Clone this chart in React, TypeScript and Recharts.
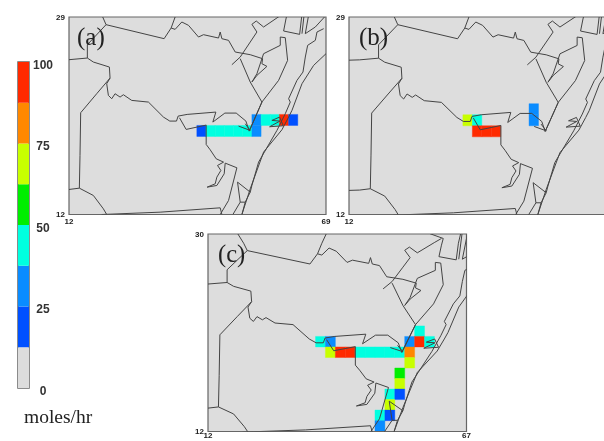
import React from 'react';
import {
    Bar,
    BarChart,
    CartesianGrid,
    ReferenceArea,
    Scatter,
    ScatterChart,
    XAxis,
    YAxis
} from 'recharts';

type Pt = [number, number];

// colour scale, lowest band first
const bandColors = ['#dcdcdc', '#0050ff', '#0a8cff', '#00ffe0', '#00ee00', '#c8ff00', '#ff8800', '#ff2a00'];
const bandSize = [12.5, 12.5, 12.5, 12.5, 12.5, 12.5, 12.5, 12.5];
const scaleTicks = [0, 25, 50, 75, 100];

// emission cells on the model grid: col, row, moles/hr
const cellsA = [
    [20, 9, 31], [21, 9, 44], [22, 9, 44], [23, 9, 94], [24, 9, 20],
    [14, 10, 20], [15, 10, 44], [16, 10, 44], [17, 10, 44], [18, 10, 44], [19, 10, 44], [20, 10, 28]
];
const cellsB = [
    [18, 8, 31], [18, 9, 31], [11, 9, 69], [12, 9, 44],
    [12, 10, 94], [13, 10, 94], [14, 10, 94]
];
const cellsC = [
    [21, 8, 44],
    [11, 9, 44], [12, 9, 31], [20, 9, 31], [21, 9, 94], [22, 9, 44],
    [12, 10, 69], [13, 10, 94], [14, 10, 94], [15, 10, 44], [16, 10, 44], [17, 10, 44], [18, 10, 44], [19, 10, 44], [20, 10, 81],
    [20, 11, 69], [19, 12, 56], [19, 13, 69], [18, 14, 44], [19, 14, 20],
    [18, 15, 69], [17, 16, 44], [18, 16, 20], [17, 17, 31]
];

// map outlines, traced in map units (y runs downward)
const countyTop: Pt[] = [[85, -29], [101, 0], [111, 23], [285, 65], [306, 33], [318, 0], [330, -29]];
const countyNorth: Pt[] = [[111, 23], [55, 83], [55, 123], [0, 128], [-31, 129]];
const countyMid: Pt[] = [[55, 123], [73, 135], [121, 150], [123, 183]];
const countyWest: Pt[] = [[123, 183], [83, 230], [35, 287], [33, 415], [31, 513]];
const countySouth: Pt[] = [[-31, 518], [0, 517], [31, 513], [73, 535], [103, 575], [113, 592]];
const bottomLine: Pt[] = [[98, 592], [273, 585], [453, 572], [458, 592]];
const riverMain: Pt[] = [
    [123, 183], [113, 200], [118, 235], [128, 245], [138, 230], [153, 240], [163, 233], [188, 250], [238, 255],
    [283, 300], [302, 312], [322, 312], [327, 297], [354, 292], [440, 285], [431, 315], [467, 288], [501, 288],
    [530, 312], [540, 342], [578, 255]
];
const riverLower: Pt[] = [
    [331, 302], [351, 337], [411, 324], [411, 382], [423, 398], [441, 425], [463, 435], [445, 445], [455, 460],
    [443, 480], [438, 500], [414, 510], [443, 505], [465, 470], [468, 438], [503, 452], [478, 550], [453, 592]
];
const bayInlet: Pt[] = [[508, 327], [543, 340], [528, 320]];
const peninsula: Pt[] = [[505, 495], [543, 525], [528, 555], [518, 592]];
const peninsulaInner: Pt[] = [[505, 495], [513, 555], [528, 555]];
const peninsulaFoot: Pt[] = [[513, 555], [491, 592]];
const riverNorth: Pt[] = [
    [306, 33], [318, 37], [338, 15], [358, 25], [388, 60], [403, 53], [448, 63], [453, 45], [458, 65], [478, 70],
    [498, 105], [543, 113], [580, 125], [578, 140], [593, 148], [563, 175], [548, 195]
];
const branchNorth: Pt[] = [[488, 143], [513, 120], [543, 75], [563, 45], [548, 22], [561, 12], [583, 30], [630, -2], [650, -15]];
const branchCross: Pt[] = [[513, 125], [543, 195], [578, 255]];
const neck: Pt[] = [[548, 195], [563, 170], [583, 110], [633, 85], [633, 60], [648, 62], [655, 130], [628, 190], [578, 255], [540, 342]];
const coastOuter: Pt[] = [[518, 592], [543, 515], [583, 405], [638, 338], [658, 300], [668, 280], [698, 200], [733, 145], [770, 110]];
const coastInner: Pt[] = [
    [543, 525], [548, 505], [568, 435], [623, 340], [648, 290], [663, 255], [658, 245], [683, 190], [701, 165],
    [708, 120], [715, 85], [738, 70], [743, 45], [763, 35]
];
const capeTip: Pt[] = [[642, 326], [601, 329], [632, 312], [608, 310], [631, 300], [642, 326]];
const northEast: Pt[] = [[618, -30], [655, -15], [650, 6], [643, 42], [691, 52], [697, 0], [703, -29]];
const northEastThin: Pt[] = [[707, -29], [698, 50]];
const northEastFar: Pt[] = [[722, -29], [708, 50], [738, 30], [770, -5]];

const mapLines = [
    countyTop, countyNorth, countyMid, countyWest, countySouth, bottomLine, riverMain, riverLower, bayInlet,
    peninsula, peninsulaInner, peninsulaFoot, riverNorth, branchNorth, branchCross, neck, coastOuter, coastInner,
    capeTip, northEast, northEastThin, northEastFar
].map((line) => line.map(([x, y]) => ({ x, y })));

const panelA = {
    name: '(a)', cells: cellsA, xDomain: [0, 770], yDomain: [0, 592], xLabels: ['12', '69'], yLabels: ['29', '12'],
    left: 69, top: 16.5, width: 257, height: 197.5, tickGap: 4, nameLeft: 77, nameTop: 22, nameSize: 25
};
const panelB = {
    name: '(b)', cells: cellsB, xDomain: [-31, 717], yDomain: [0, 590], xLabels: ['12'], yLabels: ['29', '12'],
    left: 349, top: 16.5, width: 257, height: 197.5, tickGap: 4, nameLeft: 359, nameTop: 22, nameSize: 25
};
const panelC = {
    name: '(c)', cells: cellsC, xDomain: [2, 719.5], yDomain: [-29, 590], xLabels: ['12', '67'], yLabels: ['30', '12'],
    left: 208, top: 233.5, width: 258.5, height: 197.5, tickGap: 1, nameLeft: 218, nameTop: 239, nameSize: 24.5
};

const smallTick = { fontSize: 8, fontWeight: 700, fontFamily: 'Liberation Sans', fill: '#222' };

function cellColor(value: number) {
    return bandColors[Math.min(Math.floor(value / 12.5), bandColors.length - 1)];
}

function MapPanel({ panel }: { panel: typeof panelA }) {
    const [xLo, xHi] = panel.xDomain;
    const [yLo, yHi] = panel.yDomain;
    return (
        <>
            <div style={{ position: 'absolute', left: panel.left - 30, top: panel.top - 6 }}>
                <ScatterChart
                    width={panel.width + 30 + 14}
                    height={panel.height + 6 + 11}
                    margin={{ top: 6, right: 14, bottom: 0, left: 0 }}
                >
                    <CartesianGrid fill="#dddddd" stroke="none" horizontal={false} vertical={false} />
                    <XAxis
                        type="number"
                        dataKey="x"
                        domain={[xLo, xHi]}
                        ticks={panel.xLabels.length > 1 ? [xLo, xHi] : [xLo]}
                        tickFormatter={(v: number) => (v === xLo ? panel.xLabels[0] : panel.xLabels[1])}
                        allowDataOverflow
                        interval={0}
                        height={11}
                        axisLine={false}
                        tickLine={false}
                        tickSize={0}
                        tickMargin={panel.tickGap}
                        tick={smallTick}
                    />
                    <YAxis
                        type="number"
                        dataKey="y"
                        reversed
                        domain={[yLo, yHi]}
                        ticks={[yLo, yHi]}
                        tickFormatter={(v: number) => (v === yLo ? panel.yLabels[0] : panel.yLabels[1])}
                        allowDataOverflow
                        interval={0}
                        width={30}
                        axisLine={false}
                        tickLine={false}
                        tickSize={0}
                        tickMargin={4}
                        tick={smallTick}
                    />
                    {panel.cells.map(([col, row, value]) => (
                        <ReferenceArea
                            key={`${col}-${row}`}
                            x1={col * 27.5 - 2}
                            x2={(col + 1) * 27.5 - 2}
                            y1={row * 33 - 5}
                            y2={(row + 1) * 33 - 5}
                            fill={cellColor(value)}
                            fillOpacity={1}
                            stroke={cellColor(value)}
                            strokeWidth={0.4}
                            ifOverflow="hidden"
                        />
                    ))}
                    {mapLines.map((line, i) => (
                        <Scatter
                            key={i}
                            data={line}
                            line={{ stroke: '#444444', strokeWidth: 1 }}
                            shape={() => <g />}
                            isAnimationActive={false}
                        />
                    ))}
                    <ReferenceArea
                        x1={xLo}
                        x2={xHi}
                        y1={yLo}
                        y2={yHi}
                        fill="none"
                        stroke="#666"
                        strokeWidth={1.2}
                    />
                </ScatterChart>
            </div>
            <div
                style={{
                    position: 'absolute',
                    left: panel.nameLeft,
                    top: panel.nameTop,
                    fontFamily: 'Liberation Serif',
                    fontSize: panel.nameSize,
                    lineHeight: '30px',
                    color: '#222'
                }}
            >
                {panel.name}
            </div>
        </>
    );
}

const barRow = [{ name: 'scale', ...Object.fromEntries(bandSize.map((v, i) => [`band${i}`, v])) }];

function ScaleTick({ x, y, payload }: any) {
    return (
        <text
            x={x + 6}
            y={y + 6.5}
            textAnchor="middle"
            fontSize={12}
            fontWeight={700}
            fontFamily="Liberation Sans"
            fill="#333"
        >
            {payload.value}
        </text>
    );
}

export default function App() {
    return (
        // the source figure is a soft scan, so everything gets a slight blur
        <div style={{ position: 'absolute', left: 0, top: 0, width: 604, height: 441, overflow: 'hidden', background: '#fff', filter: 'blur(0.45px)' }}>
            <MapPanel panel={panelA} />
            <MapPanel panel={panelB} />
            <MapPanel panel={panelC} />
            <div style={{ position: 'absolute', left: 0, top: 50 }}>
                <BarChart
                    width={60}
                    height={350}
                    data={barRow}
                    barCategoryGap={0}
                    margin={{ top: 12, right: 0, bottom: 12, left: 18 }}
                >
                    <XAxis dataKey="name" hide />
                    <YAxis
                        orientation="right"
                        domain={[0, 100]}
                        ticks={scaleTicks}
                        interval={0}
                        width={31}
                        axisLine={false}
                        tickLine={false}
                        tick={<ScaleTick />}
                    />
                    {bandColors.map((color, i) => (
                        <Bar key={i} dataKey={`band${i}`} stackId="scale" fill={color} isAnimationActive={false} />
                    ))}
                    <ReferenceArea y1={0} y2={100} fill="none" stroke="#666" strokeWidth={1.5} />
                </BarChart>
            </div>
            <div
                style={{
                    position: 'absolute',
                    left: 24,
                    top: 405,
                    fontFamily: 'Liberation Serif',
                    fontSize: 19.5,
                    lineHeight: '24px',
                    color: '#222'
                }}
            >
                moles/hr
            </div>
        </div>
    );
}
